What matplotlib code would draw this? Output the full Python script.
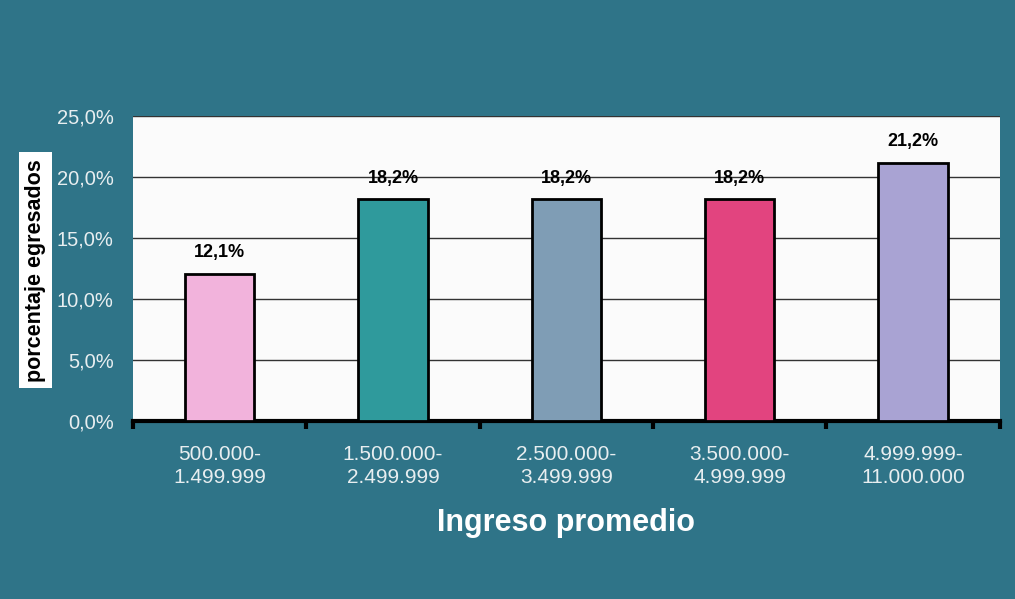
import matplotlib
matplotlib.use('Agg')
import matplotlib.pyplot as plt
from matplotlib.ticker import FuncFormatter, MultipleLocator

plt.rcParams['font.family'] = ['Liberation Sans', 'DejaVu Sans']

CATEGORIES = ['500.000-\n1.499.999', '1.500.000-\n2.499.999', '2.500.000-\n3.499.999',
              '3.500.000-\n4.999.999', '4.999.999-\n11.000.000']
VALUES = [12.1, 18.2, 18.2, 18.2, 21.2]
BAR_COLORS = ['#f2b3dc', '#2f9a9c', '#7f9db5', '#e2447f', '#a9a3d3']

BG = '#2f7488'

fig = plt.figure(figsize=(10.15, 5.99), dpi=100, facecolor=BG)
ax = fig.add_axes([0.131, 0.297, 0.854, 0.509])
ax.set_facecolor('#fbfbfb')

x = range(len(VALUES))
bars = ax.bar(x, VALUES, width=0.4, color=BAR_COLORS, edgecolor='black', linewidth=2, zorder=3)

for xi, v in zip(x, VALUES):
    ax.text(xi, v + 1.0, f'{v:.1f}%'.replace('.', ','), ha='center', va='bottom',
            fontsize=13, fontweight='bold', color='black', zorder=4)

ax.set_xlim(-0.5, len(VALUES) - 0.5)
ax.set_ylim(0, 25)
ax.yaxis.set_major_locator(MultipleLocator(5))
ax.yaxis.set_major_formatter(FuncFormatter(lambda v, p: f'{v:.1f}%'.replace('.', ',')))
ax.grid(axis='y', color='#333333', linewidth=1, zorder=0)

for s in ['top', 'right', 'left']:
    ax.spines[s].set_visible(False)
ax.spines['bottom'].set_linewidth(3)
ax.spines['bottom'].set_color('black')

# category boundaries get the tick marks, labels sit between them
ax.set_xticks([i - 0.5 for i in range(len(VALUES) + 1)], minor=False)
ax.set_xticklabels([])
ax.set_xticks(list(x), minor=True)
ax.set_xticklabels(CATEGORIES, minor=True, fontsize=15, color='#e8eef0', linespacing=1.3)
ax.tick_params(axis='x', which='major', length=6, width=3, color='black', direction='out')
ax.tick_params(axis='x', which='minor', length=0, pad=17)
ax.tick_params(axis='y', length=0, labelsize=14.5, labelcolor='#e8eef0', pad=14)

ax.set_xlabel('Ingreso promedio', fontsize=22, fontweight='bold', color='white', labelpad=15)

fig.text(0.035, 0.549, 'porcentaje egresados', rotation=90, ha='center', va='center',
         fontsize=15.5, fontweight='bold', color='black',
         bbox=dict(boxstyle='square,pad=0.3', facecolor='white', edgecolor='none'))

plt.savefig('out.png', dpi=100, facecolor=BG)
